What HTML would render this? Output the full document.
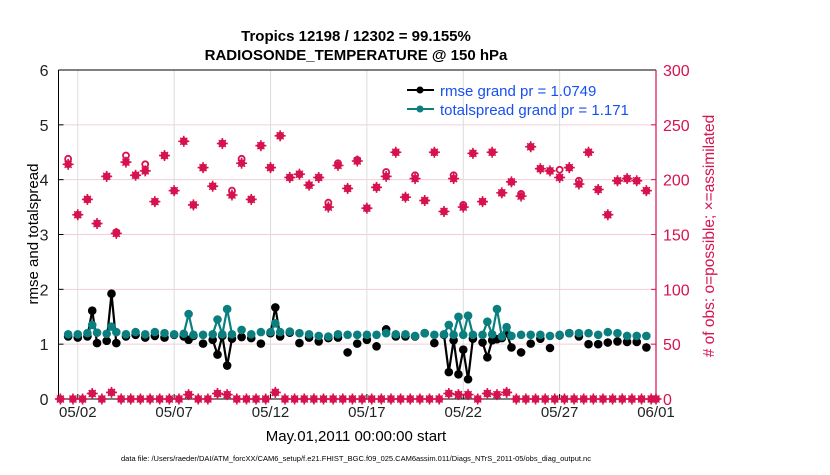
<!DOCTYPE html>
<html><head><meta charset="utf-8"><style>
body{margin:0;background:#fff;}
svg text{font-family:"Liberation Sans",Arial,sans-serif;}
</style></head><body>
<svg id="chart" width="830" height="470" xmlns="http://www.w3.org/2000/svg">
<rect width="830" height="470" fill="#fff"/>
<text x="356" y="41" font-size="15" font-weight="bold" text-anchor="middle">Tropics 12198 / 12302 = 99.155%</text>
<text x="356" y="60" font-size="15" font-weight="bold" text-anchor="middle">RADIOSONDE_TEMPERATURE @ 150 hPa</text>
<g id="grid"></g>
<g id="axes"></g>
<g id="marks"></g>
<text transform="translate(38,234) rotate(-90)" font-size="15" text-anchor="middle">rmse and totalspread</text>
<text transform="translate(714,236) rotate(-90)" font-size="15.5" fill="#d6134f" text-anchor="middle"># of obs: o=possible; ×=assimilated</text>
<text x="356" y="441" font-size="15" text-anchor="middle">May.01,2011 00:00:00 start</text>
<text x="356" y="461" font-size="7.5" text-anchor="middle">data file: /Users/raeder/DAI/ATM_forcXX/CAM6_setup/f.e21.FHIST_BGC.f09_025.CAM6assim.011/Diags_NTrS_2011-05/obs_diag_output.nc</text>
<g>
<line x1="407" y1="90" x2="434" y2="90" stroke="#000" stroke-width="2"/><circle cx="420" cy="90" r="3.5" fill="#000"/>
<text x="440" y="96" font-size="15" fill="#1750f0">rmse grand pr = 1.0749</text>
<line x1="407" y1="109" x2="434" y2="109" stroke="#0b7f7f" stroke-width="2"/><circle cx="420" cy="109" r="3.5" fill="#0b7f7f"/>
<text x="440" y="115" font-size="15" fill="#1750f0">totalspread grand pr = 1.171</text>
</g>
</svg>
<script>
// synoptic (00Z/12Z) times in days since May 1 00Z
const synDays = [0.5,1,1.5,2,2.5,3,3.5,4,4.5,5,5.5,6,6.5,7,7.5,8,8.5,9,9.5,10,10.5,11,11.5,12,12.5,13,13.5,14,14.5,15,15.5,16,16.5,17,17.5,18,18.5,19,19.5,20,20.5,21,21.5,22,22.5,23,23.5,24,24.5,25,25.5,26,26.5,27,27.5,28,28.5,29,29.5,30,30.5];
const synRmse = [1.14,1.12,1.14,1.02,1.06,1.02,1.14,1.17,1.12,1.15,1.12,1.17,1.14,1.15,1.01,1.08,1.15,1.10,1.13,1.11,1.01,1.2,1.14,1.21,1.02,1.12,1.05,1.11,1.12,0.85,1.01,1.08,0.96,1.27,1.14,1.14,1.14,1.2,1.02,1.17,1.07,0.9,1.10,1.03,1.07,1.11,0.94,0.85,1.01,1.10,0.93,1.16,1.2,1.14,1.0,1.0,1.03,1.05,1.04,1.04,0.94];
const synSpread = [1.18,1.18,1.2,1.21,1.19,1.22,1.18,1.22,1.18,1.22,1.2,1.18,1.19,1.17,1.17,1.18,1.18,1.18,1.26,1.18,1.22,1.22,1.22,1.23,1.2,1.18,1.15,1.14,1.18,1.17,1.17,1.17,1.17,1.2,1.18,1.18,1.15,1.2,1.17,1.18,1.17,1.17,1.17,1.17,1.18,1.14,1.15,1.17,1.17,1.17,1.15,1.17,1.2,1.2,1.2,1.17,1.22,1.2,1.15,1.15,1.15];
const synPossible = [219,168,182,160,203,152,222,204,214,180,222,190,235,177,211,194,233,190,219,182,231,211,240,202,205,195,202,179,215,192,218,174,193,207,225,184,204,181,225,171,204,177,224,180,225,188,198,187,230,210,208,209,211,199,225,191,168,199,201,199,190];
const synAssim = [214,168,182,160,203,151,216,204,208,180,222,190,235,177,211,194,233,186,215,182,231,211,240,202,205,195,202,175,213,192,217,174,193,203,225,184,201,181,225,171,201,175,224,180,225,188,198,185,230,210,208,202,211,196,225,191,168,199,201,199,190];
// off-hour (06Z/18Z) observations
const extraDays = [1.75,2.75,6.75,8.25,8.75,11.25,20.25,20.75,21.25,22.25,22.75,23.25];
const extraRmse = [1.61,1.92,1.08,0.81,0.61,1.67,0.49,0.45,0.36,0.76,1.09,1.2];
const extraSpread = [1.35,1.32,1.55,1.45,1.64,1.38,1.35,1.50,1.52,1.41,1.64,1.31];
const offDays = [0.1,0.75,1.25,1.75,2.25,2.75,3.25,3.75,4.25,4.75,5.25,5.75,6.25,6.75,7.25,7.75,8.25,8.75,9.25,9.75,10.25,10.75,11.25,11.75,12.25,12.75,13.25,13.75,14.25,14.75,15.25,15.75,16.25,16.75,17.25,17.75,18.25,18.75,19.25,19.75,20.25,20.75,21.25,21.75,22.25,22.75,23.25,23.75,24.25,24.75,25.25,25.75,26.25,26.75,27.25,27.75,28.25,28.75,29.25,29.75,30.25,30.75,31];
const offCount = [0,0,0,5,0,6,0,0,0,0,0,0,0,4,0,0,5,4,0,0,0,0,6,0,0,0,0,0,0,0,0,0,0,0,0,0,0,0,0,0,5,4,4,0,5,4,6,0,0,0,0,0,0,0,0,0,0,0,0,0,0,0,0];
const xTickDays = [1,6,11,16,21,26,31];
const xTickLabels = ["05/02","05/07","05/12","05/17","05/22","05/27","06/01"];
const yTicks = [0,1,2,3,4,5,6];
const y2Ticks = [0,50,100,150,200,250,300];

const NS="http://www.w3.org/2000/svg";
const L=58.5,R=656,T=70,B=399;
const xs=d=>L+(R-L)*d/31;
const ys=v=>B-(B-T)*v/6;
const y2=c=>B-(B-T)*c/300;
const RED="#d6134f",TEAL="#0b7f7f";
function mk(tag,attrs,parent){const e=document.createElementNS(NS,tag);for(const k in attrs)e.setAttribute(k,attrs[k]);parent.appendChild(e);return e;}
const grid=document.getElementById('grid'),axes=document.getElementById('axes'),marks=document.getElementById('marks');
yTicks.forEach((v,i)=>{ if(v>0&&v<6){const g=mk('line',{x1:L,x2:R,y1:ys(v),y2:ys(v),stroke:'#f3cdd9','stroke-width':1},grid);

}
 const t=mk('text',{x:L-10,y:ys(v)+6,'font-size':16,'text-anchor':'end',fill:'#222'},axes);t.textContent=v;
 
 
 mk('line',{x1:L,x2:L+5,y1:ys(v),y2:ys(v),stroke:'#000'},axes);
});
y2Ticks.forEach(c=>{
 const t=mk('text',{x:R+7,y:y2(c)+6,'font-size':16,fill:RED},axes);t.textContent=c;
 
 
 mk('line',{x1:R-5,x2:R,y1:y2(c),y2:y2(c),stroke:RED},axes);
});
xTickDays.forEach((d,i)=>{
 if(d<31){const g=mk('line',{x1:xs(d),x2:xs(d),y1:T,y2:B,stroke:'#dcdcdc'},grid);
 
 }
 mk('line',{x1:xs(d),x2:xs(d),y1:B,y2:B-5,stroke:'#000'},axes);
 const t=mk('text',{x:xs(d),y:417,'font-size':15,'text-anchor':'middle',fill:'#222'},axes);t.textContent=xTickLabels[i];
 
 
});
mk('line',{x1:L,x2:L,y1:T,y2:B,stroke:'#000'},axes);
mk('line',{x1:L,x2:R,y1:B,y2:B,stroke:'#000'},axes);
mk('line',{x1:L,x2:R,y1:T,y2:T,stroke:'#000'},axes);
mk('line',{x1:R,x2:R,y1:T,y2:B,stroke:RED,'stroke-width':1.2},axes);

const pts=[];
synDays.forEach((d,i)=>pts.push({d:d,r:synRmse[i],s:synSpread[i]}));
extraDays.forEach((d,i)=>pts.push({d:d,r:extraRmse[i],s:extraSpread[i]}));
pts.sort((a,b)=>a.d-b.d);
function drawSeries(key,color,name){
 for(let i=1;i<pts.length;i++){ if(pts[i].d-pts[i-1].d<=0.26){
  const l=mk('line',{x1:xs(pts[i-1].d),y1:ys(pts[i-1][key]),x2:xs(pts[i].d),y2:ys(pts[i][key]),stroke:color,'stroke-width':2.2},marks);
  
  
 }}
 pts.forEach(p=>{const c=mk('circle',{cx:xs(p.d),cy:ys(p[key]),r:4.3,fill:color},marks);
  
  });
}
drawSeries('r','#000','rmse');
drawSeries('s',TEAL,'totalspread');
function star(x,y,name){
 const g=mk('g',{},marks);
 
 
 mk('circle',{cx:x,cy:y,r:3.8,fill:RED},g);
 mk('line',{x1:x-5.5,x2:x+5.5,y1:y,y2:y,stroke:RED,'stroke-width':1.6},g);
 mk('line',{x1:x,x2:x,y1:y-5.5,y2:y+5.5,stroke:RED,'stroke-width':1.6},g);
 mk('line',{x1:x-3.5,x2:x+3.5,y1:y-3.5,y2:y+3.5,stroke:RED,'stroke-width':1.4},g);
 mk('line',{x1:x-3.5,x2:x+3.5,y1:y+3.5,y2:y-3.5,stroke:RED,'stroke-width':1.4},g);
}
synDays.forEach((d,i)=>{
 const c=mk('circle',{cx:xs(d),cy:y2(synPossible[i]),r:3,fill:'#fff',stroke:RED,'stroke-width':1.8},marks);
 
 
 star(xs(d),y2(synAssim[i]),'assimilated-obs-marker');
});
offDays.forEach((d,i)=>{
 const c=mk('circle',{cx:xs(d),cy:y2(offCount[i]),r:3,fill:'#fff',stroke:RED,'stroke-width':1.8},marks);
 
 
 star(xs(d),y2(offCount[i]),'assimilated-obs-marker');
});
</script>
</body></html>
